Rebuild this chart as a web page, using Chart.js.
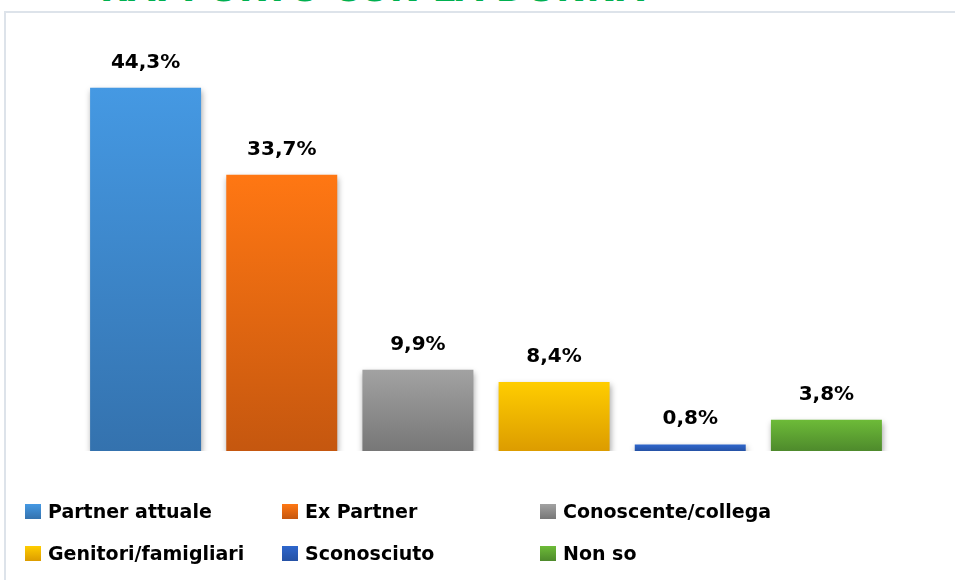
<!DOCTYPE html>
<html>
<head>
<meta charset="utf-8">
<script src="https://cdn.jsdelivr.net/npm/chart.js@4/dist/chart.umd.min.js"></script>
<style>
  html, body { margin:0; padding:0; background:#fff; width:955px; height:580px; overflow:hidden; position:relative; font-family:"DejaVu Sans", sans-serif; }
  #frame { position:absolute; left:4px; top:11px; width:980px; height:620px; border:2px solid #DDE3EA; box-sizing:border-box; }
  #title { position:absolute; left:100px; top:-29.5px; font:bold 36px "DejaVu Sans", sans-serif; color:#00B050; white-space:nowrap; line-height:36px; }
  #wrap { position:absolute; left:0; top:0; width:955px; height:580px; }
  #legend { position:absolute; left:0; top:0; width:955px; height:580px; pointer-events:none; }
  .li { position:absolute; display:flex; align-items:center; font:bold 19px "DejaVu Sans", sans-serif; color:#000; white-space:nowrap; }
  .sw { width:16px; height:15px; margin-right:7px; }
</style>
</head>
<body>
<div id="frame"></div>
<div id="title">RAPPORTO CON LA DONNA</div>
<div id="wrap"><canvas id="c" width="955" height="580"></canvas></div>
<div id="legend"></div>
<script>
const categories = ["Partner attuale", "Ex Partner", "Conoscente/collega", "Genitori/famigliari", "Sconosciuto", "Non so"];
const values = [44.3, 33.7, 9.9, 8.4, 0.8, 3.8];
const topColors = ["#4599E3", "#FF7713", "#A2A2A2", "#FFCD00", "#2E66CC", "#6DBB38"];
const bottomColors = ["#3472AE", "#C5570F", "#777777", "#DC9C00", "#2552A5", "#4E8A2C"];

function fmt(v){ return v.toFixed(1).replace('.', ',') + '%'; }

function barGradient(ctx){
  const chart = ctx.chart;
  const i = ctx.dataIndex;
  if (!chart.chartArea || !chart.scales.y) return topColors[i];
  const y = chart.scales.y;
  const top = y.getPixelForValue(values[i]);
  const bot = y.getPixelForValue(0);
  const g = chart.ctx.createLinearGradient(0, top, 0, Math.max(bot, top + 1));
  g.addColorStop(0, topColors[i]);
  g.addColorStop(1, bottomColors[i]);
  return g;
}

const shadowPlugin = {
  id: 'shadow',
  beforeDatasetsDraw(chart){
    const c = chart.ctx;
    c.save();
    c.shadowColor = 'rgba(0,0,0,0.35)';
    c.shadowBlur = 6;
    c.shadowOffsetX = 1;
    c.shadowOffsetY = 3;
  },
  afterDatasetsDraw(chart){
    chart.ctx.restore();
    const c = chart.ctx;
    const meta = chart.getDatasetMeta(0);
    c.save();
    c.font = 'bold 20px "DejaVu Sans", sans-serif';
    c.fillStyle = '#000';
    c.textAlign = 'center';
    c.textBaseline = 'alphabetic';
    meta.data.forEach((el, i) => {
      c.fillText(fmt(values[i]), el.x, el.y - 20);
    });
    c.restore();
  }
};

const chart = new Chart(document.getElementById('c'), {
  type: 'bar',
  data: {
    labels: categories,
    datasets: [{
      label: 'Rapporto',
      data: values,
      backgroundColor: barGradient,
      borderWidth: 0,
      categoryPercentage: 1,
      barPercentage: 0.815
    }]
  },
  options: {
    responsive: false,
    animation: false,
    devicePixelRatio: 1,
    layout: { padding: { left: 77.5, right: 60.5, top: 41, bottom: 129 } },
    plugins: { legend: { display: false }, tooltip: { enabled: false }, title: { display: false } },
    scales: {
      x: { display: false },
      y: { display: false, min: 0, max: 50 }
    }
  },
  plugins: [shadowPlugin]
});

// HTML legend built from the data arrays
const legendPos = [
  [25, 511], [282, 511], [540, 511],
  [25, 553], [282, 553], [540, 553]
];
const leg = document.getElementById('legend');
categories.forEach((name, i) => {
  const d = document.createElement('div');
  d.className = 'li';
  d.style.left = legendPos[i][0] + 'px';
  d.style.top = (legendPos[i][1] - 12) + 'px';
  d.style.height = '24px';
  const sw = document.createElement('span');
  sw.className = 'sw';
  sw.style.background = 'linear-gradient(' + topColors[i] + ',' + bottomColors[i] + ')';
  const t = document.createElement('span');
  t.textContent = name;
  d.appendChild(sw); d.appendChild(t);
  leg.appendChild(d);
});
</script>
</body>
</html>
